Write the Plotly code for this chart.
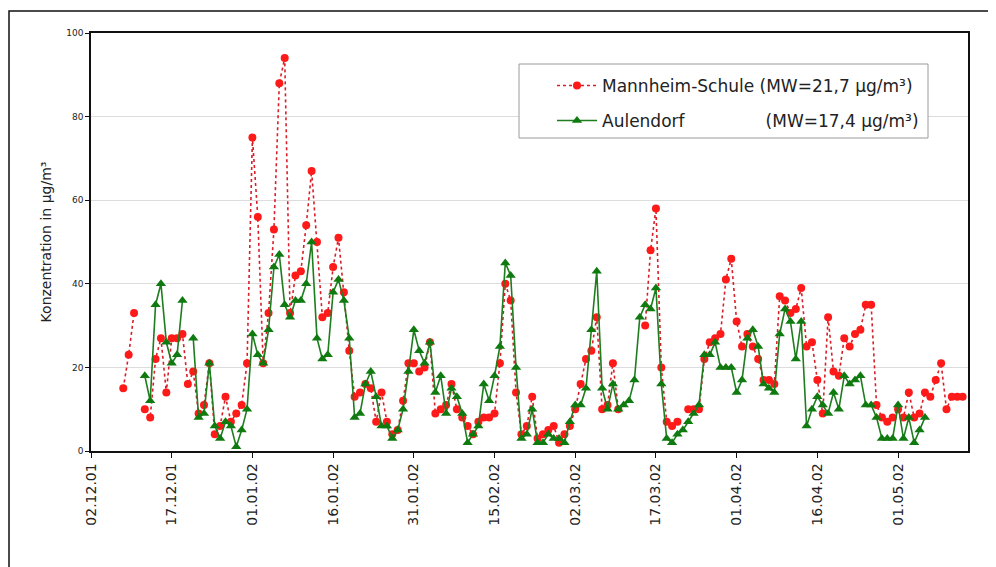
import pandas as pd
import plotly.graph_objects as go

# ---- data ----
start_date = "2001-12-08"
end_date = "2002-05-13"

mannheim = [
    # Dec 8 - Dec 31
    15, 23, 33, None, 10, 8, 22, 27, 14, 27, 27, 28, 16, 19, 9, 11, 21, 4, 6, 13, 7, 9, 11, 21,
    # Jan
    75, 56, 21, 33, 53, 88, 94, 33, 42, 43, 54, 67, 50, 32, 33, 44, 51, 38, 24, 13, 14, 16, 15, 7, 14, 7, 4, 5, 12, 21, 21,
    # Feb
    19, 20, 26, 9, 10, 11, 16, 10, 8, 6, 4, 7, 8, 8, 9, 21, 40, 36, 14, 4, 6, 13, 3, 4, 5, 6, 2, 4,
    # Mar
    6, 10, 16, 22, 24, 32, 10, 11, 21, 10, None, None, None, None, 30, 48, 58, 20, 7, 6, 7, None, 10, 10, 10, 22, 26, 27, 28, 41, 46,
    # Apr
    31, 25, 28, 25, 22, 17, 17, 16, 37, 36, 33, 34, 39, 25, 26, 17, 9, 32, 19, 18, 27, 25, 28, 29, 35, 35, 11, 8, 7, 8,
    # May 1 - 13
    10, 8, 14, 8, 9, 14, 13, 17, 21, 10, 13, 13, 13,
]

aulendorf = [
    # Dec 8 - Dec 31
    None, None, None, None, 18, 12, 35, 40, 26, 21, 23, 36, None, 27, 8, 9, 21, 6, 3, 7, 6, 1, 5, 10,
    # Jan
    28, 23, 21, 29, 44, 47, 35, 32, 36, 36, 40, 50, 27, 22, 23, 38, 41, 36, 27, 8, 9, 16, 19, 13, 6, 6, 3, 5, 10, 19, 29,
    # Feb
    24, 21, 26, 14, 18, 9, 15, 13, 9, 2, 4, 6, 16, 12, 18, 25, 45, 42, 20, 3, 4, 10, 2, 2, 4, 3, 3, 2,
    # Mar
    7, 11, 11, 15, 29, 43, 15, 10, 16, 10, 11, 12, 17, 32, 35, 34, 39, 16, 3, 2, 4, 5, 7, 9, 11, 23, 23, 26, 20, 20, 20,
    # Apr
    14, 17, 27, 29, 25, 16, 15, 14, 28, 34, 31, 22, 31, 6, 10, 13, 11, 9, 14, 10, 18, 16, 17, 18, 11, 11, 8, 3, 3, 3,
    # May 1 - 13
    11, 3, 8, 2, 5, 8, None, None, None, None, None, None, None,
]

name_mannheim = "Mannheim-Schule (MW=21,7 µg/m³)"
name_aulendorf = "Aulendorf" + "\u00a0" * 15 + "(MW=17,4 µg/m³)"
y_title = "Konzentration in µg/m³"

dates = pd.date_range(start_date, end_date, freq="D")

# ---- figure (page has an 8px body margin, so the figure is sized to fit) ----
OFF = 8
W, H = 988, 559
ML, MT = 83, 25
PW, PH = 877, 418
MR = W - ML - PW
MB = H - MT - PH

def px_x(p):  # page pixel -> paper fraction
    return (p - OFF - ML) / PW

def px_y(p):
    return (MT + PH - (p - OFF)) / PH

fig = go.Figure()

fig.add_trace(go.Scatter(
    x=dates, y=mannheim, name=name_mannheim, mode="lines+markers",
    line=dict(color="#d81e28", width=1.6, dash="dot"),
    marker=dict(symbol="circle", size=8, color="#ff1a1a", line=dict(width=0)),
    connectgaps=False, legend="legend", showlegend=True,
))

fig.add_trace(go.Scatter(
    x=dates, y=aulendorf, name=name_aulendorf, mode="lines+markers",
    line=dict(color="#1e7d1e", width=1.6),
    marker=dict(symbol="triangle-up", size=9, color="#0f7a0f", line=dict(width=0)),
    connectgaps=False, legend="legend2", showlegend=True,
))

legend_common = dict(
    xanchor="left", yanchor="middle", bgcolor="rgba(0,0,0,0)", borderwidth=0,
    font=dict(family="DejaVu Sans", size=17, color="#222"), itemwidth=40,
    visible=True,
)

fig.update_layout(
    width=W, height=H,
    showlegend=True,
    margin=dict(l=ML, r=MR, t=MT, b=MB, autoexpand=False),
    paper_bgcolor="white", plot_bgcolor="white",
    font=dict(family="DejaVu Sans", color="#222"),
    legend=dict(x=px_x(552), y=px_y(86), **legend_common),
    legend2=dict(x=px_x(552), y=px_y(121), **legend_common),
    xaxis=dict(
        type="date",
        range=["2001-12-02", "2002-05-14"],
        tick0="2001-12-02", dtick=15 * 86400000,
        tickformat="%d.%m.%y", tickangle=-90,
        ticks="outside", ticklen=5, tickcolor="#111",
        tickfont=dict(family="DejaVu Sans", size=14, color="#222"),
        showline=True, linecolor="#111", linewidth=1.5, mirror=True,
        showgrid=False, zeroline=False,
    ),
    yaxis=dict(
        range=[0, 100], dtick=20, tick0=0,
        ticks="outside", ticklen=4, tickcolor="#111",
        tickfont=dict(family="DejaVu Sans", size=9, color="#222"),
        showline=True, linecolor="#111", linewidth=1.5, mirror=True,
        showgrid=True, gridcolor="#dcdcdc", gridwidth=1, zeroline=False,
        title=dict(text=y_title, standoff=11,
                   font=dict(family="DejaVu Sans", size=14, color="#222")),
    ),
    shapes=[
        # legend box
        dict(type="rect", xref="paper", yref="paper",
             x0=px_x(519), x1=px_x(928), y0=px_y(138), y1=px_y(64),
             line=dict(color="#9a9a9a", width=1), fillcolor="white", layer="above"),
        # outer chart frame
        dict(type="rect", xref="paper", yref="paper",
             x0=px_x(9), x1=px_x(1030), y0=px_y(620), y1=px_y(11),
             line=dict(color="#111", width=1.5), fillcolor="rgba(0,0,0,0)", layer="below"),
    ],
)

fig.write_html("out.html")
